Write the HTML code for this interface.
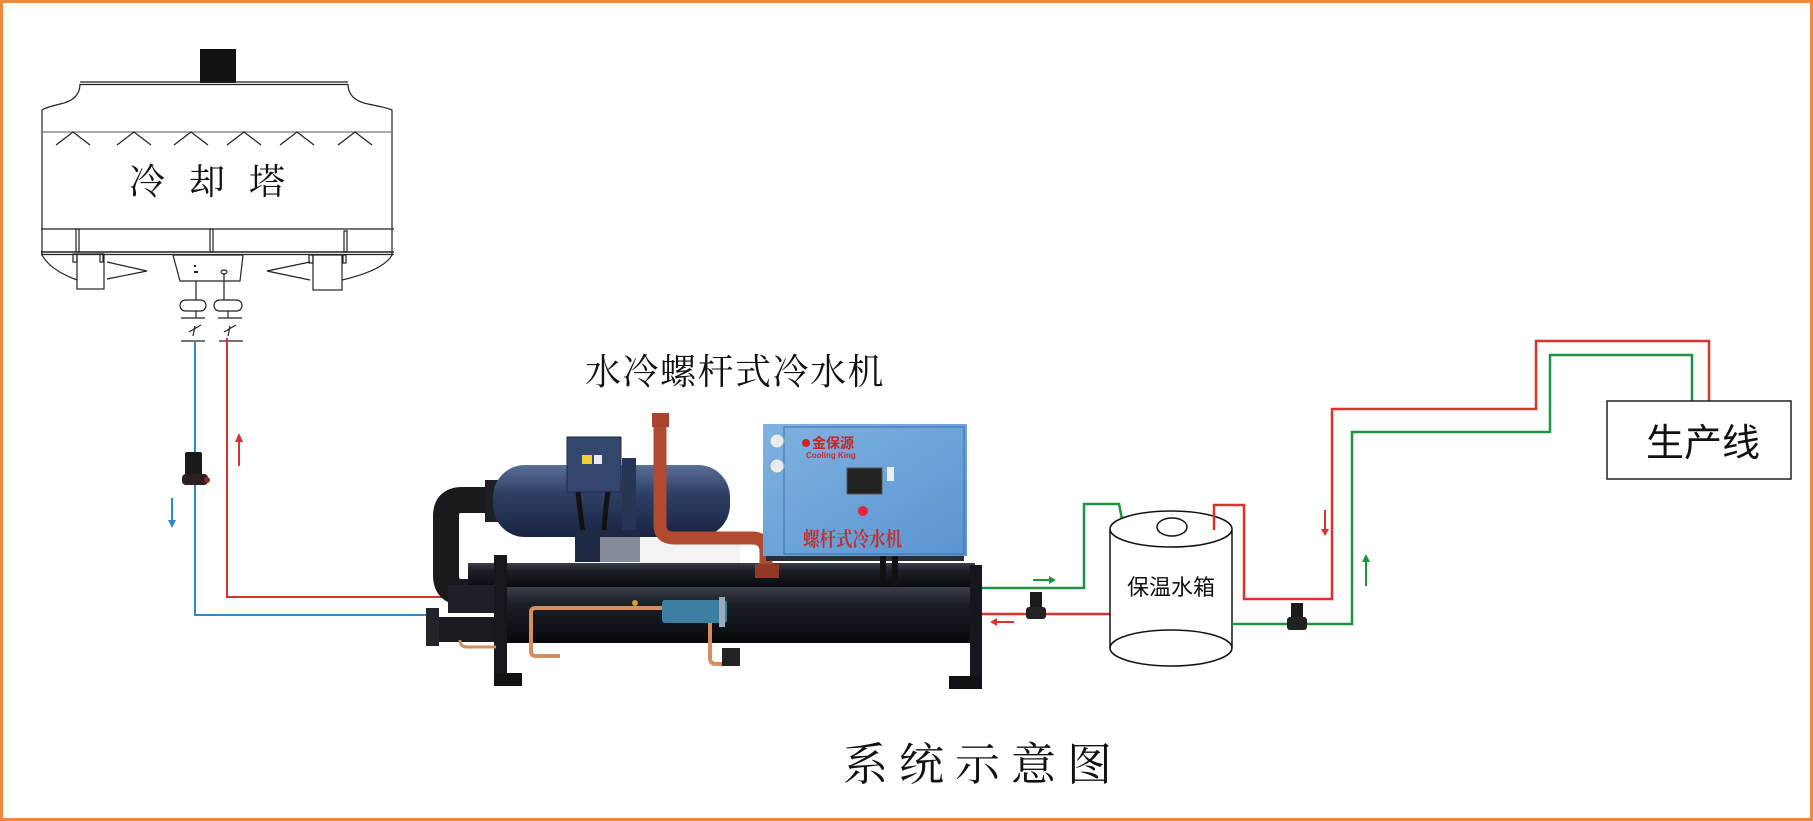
<!DOCTYPE html>
<html><head><meta charset="utf-8"><style>
html,body{margin:0;padding:0;background:#fff}
svg{display:block}
</style></head><body>
<svg width="1813" height="821" viewBox="0 0 1813 821" xmlns="http://www.w3.org/2000/svg">
<defs>
<linearGradient id="blk" x1="0" y1="0" x2="0" y2="1"><stop offset="0" stop-color="#3a3e48"/><stop offset="0.3" stop-color="#1c1f26"/><stop offset="1" stop-color="#08090c"/></linearGradient>
<linearGradient id="nav" x1="0" y1="0" x2="0" y2="1"><stop offset="0" stop-color="#5a6f96"/><stop offset="0.4" stop-color="#2e3f66"/><stop offset="1" stop-color="#1a2440"/></linearGradient>
<linearGradient id="sky" x1="0" y1="0" x2="1" y2="1"><stop offset="0" stop-color="#7fb2e2"/><stop offset="1" stop-color="#5a94d0"/></linearGradient>
</defs>
<rect x="1.5" y="1.5" width="1810" height="818" fill="#fff" stroke="#ef8a3c" stroke-width="3"/>

<!-- Cooling tower -->
<g fill="none" stroke="#222" stroke-width="1.2">
<rect x="200" y="49" width="36" height="34" fill="#111" stroke="none"/>
<line x1="80" y1="82" x2="348" y2="82"/><line x1="80" y1="84.5" x2="348" y2="84.5"/>
<path d="M80 84 Q80 100 60 104 Q44 108 42 110 L42 255 Q50 270 77 280"/>
<path d="M348 84 Q348 100 368 104 Q388 108 392 110 L392 255 Q384 270 342 280"/>
<line x1="42" y1="132" x2="392" y2="132" stroke="#777"/>
<path d="M56 145 L73 132 L90 145 M117 145 L134 132 L151 145 M174 145 L191 132 L208 145 M227 145 L244 132 L261 145 M280 145 L297 132 L314 145 M338 145 L355 132 L372 145"/>
<line x1="41" y1="229" x2="394" y2="229"/>
<line x1="41" y1="252" x2="394" y2="252" stroke-width="1.6"/><line x1="41" y1="254.5" x2="394" y2="254.5"/>
<rect x="76" y="229" width="3" height="23"/><rect x="210" y="229" width="3" height="23"/><rect x="344" y="231" width="3" height="21"/>
<rect x="77" y="254" width="27" height="35"/><rect x="73" y="254" width="4" height="8"/><rect x="100" y="254" width="3" height="8"/>
<rect x="313" y="255" width="29" height="35"/><rect x="309" y="255" width="4" height="8"/><rect x="343" y="255" width="3" height="8"/>
<path d="M107 262 L147 271 L107 279"/><path d="M310 262 L267 271 L310 280"/>
<path d="M173 255 L243 255 L240 281 L180 281 Z"/>
<line x1="195" y1="265" x2="195" y2="267" stroke-width="2"/><line x1="194" y1="272" x2="198" y2="272" stroke-width="2"/>
<ellipse cx="224" cy="272" rx="3" ry="2"/>
<line x1="196" y1="281" x2="196" y2="300"/><line x1="224" y1="274" x2="224" y2="300"/>
<rect x="180" y="300" width="26" height="11" rx="5.5"/><rect x="214" y="300" width="28" height="11" rx="5.5"/>
<line x1="196" y1="311" x2="196" y2="318"/><line x1="181" y1="318" x2="205" y2="318"/>
<line x1="228" y1="311" x2="228" y2="318"/><line x1="218" y1="318" x2="242" y2="318"/>
<path d="M189 332 L201 325 M195 326 L193 336"/><path d="M224 332 L236 325 M230 326 L228 336"/>
<line x1="181" y1="341" x2="205" y2="341"/><line x1="219" y1="341" x2="243" y2="341"/>
</g>
<text x="219" y="194" text-anchor="middle" font-family="Liberation Serif, 'Noto Serif CJK SC', serif" font-size="36" letter-spacing="24" fill="#111">冷却塔</text>

<!-- Left pipes -->
<polyline points="195,342 195,615 430,615" fill="none" stroke="#2a8ac6" stroke-width="2"/>
<polyline points="227,338 227,597 470,597" fill="none" stroke="#d9332e" stroke-width="2"/>
<g><rect x="185" y="452" width="17" height="24" fill="#1a1a1a" rx="2"/><rect x="182" y="474" width="26" height="11" fill="#2a2020" rx="4"/><circle cx="207" cy="480" r="3" fill="#8a2a20"/></g>
<line x1="172" y1="498" x2="172" y2="524" stroke="#2a8ac6" stroke-width="2"/><path d="M168 520 L172 528 L176 520Z" fill="#2a8ac6"/>
<line x1="239" y1="466" x2="239" y2="439" stroke="#d9332e" stroke-width="2"/><path d="M235 442 L239 433 L243 442Z" fill="#d9332e"/>

<!-- Chiller title -->
<text x="735" y="384" text-anchor="middle" font-family="Liberation Serif, 'Noto Serif CJK SC', serif" font-size="36" letter-spacing="1.5" fill="#111">水冷螺杆式冷水机</text>

<!-- Chiller -->
<g>
<path d="M495 500 L462 500 Q446 500 446 516 L446 575 Q446 592 462 592 L490 592" fill="none" stroke="#1a1a1e" stroke-width="26"/>
<rect x="485" y="480" width="20" height="42" fill="#1d1f24"/>
<rect x="493" y="465" width="237" height="72" rx="32" fill="url(#nav)"/>
<rect x="567" y="437" width="54" height="55" fill="#33466e" stroke="#1c2844"/>
<rect x="582" y="455" width="10" height="9" fill="#f0d030"/><rect x="594" y="455" width="8" height="9" fill="#e8e8f0"/>
<rect x="622" y="458" width="14" height="85" fill="#263456"/>
<path d="M578 492 Q582 530 588 560 M608 492 Q602 530 605 560" stroke="#111" stroke-width="5" fill="none"/>
<rect x="575" y="530" width="65" height="32" fill="#1e2a44"/>
<rect x="600" y="537" width="140" height="26" fill="#e8e8ea" opacity="0.5"/>
<!-- upper shell -->
<rect x="468" y="563" width="507" height="26" fill="url(#blk)"/>
<!-- lower cylinder -->
<rect x="501" y="587" width="479" height="56" rx="6" fill="url(#blk)"/>
<rect x="494" y="555" width="13" height="130" fill="#15171c"/>
<rect x="970" y="565" width="12" height="123" fill="#15171c"/>
<rect x="494" y="673" width="28" height="13" fill="#101215"/>
<rect x="949" y="676" width="33" height="13" fill="#101215"/>
<rect x="436" y="617" width="58" height="25" fill="#1a1c21"/>
<rect x="426" y="608" width="13" height="38" fill="#22242a"/>
<rect x="448" y="585" width="46" height="28" fill="#1d2026"/>
<!-- copper pipes -->
<path d="M560 656 L536 656 Q531 656 531 651 L531 612 Q531 608 536 608 L662 608" fill="none" stroke="#d48e60" stroke-width="4"/>
<path d="M460 640 Q460 647 467 647 L496 647" fill="none" stroke="#d48e60" stroke-width="3"/>
<path d="M710 622 L710 658 Q710 664 716 664 L728 664" fill="none" stroke="#d48e60" stroke-width="4"/>
<rect x="662" y="600" width="65" height="23" rx="3" fill="#3d7fa2"/>
<rect x="719" y="597" width="6" height="30" fill="#9ab"/>
<rect x="722" y="648" width="18" height="18" fill="#222"/>
<circle cx="635" cy="603" r="3" fill="#d4a030"/>
<!-- red pipe -->
<path d="M660 422 L660 525 Q660 538 674 538 L752 538 Q766 538 766 552 L766 568" fill="none" stroke="#b04a30" stroke-width="13"/>
<rect x="652" y="413" width="17" height="14" fill="#a8452c"/>
<rect x="755" y="564" width="24" height="14" fill="#8e3a26"/>
<!-- control panel -->
<rect x="763" y="424" width="204" height="132" fill="url(#sky)"/>
<rect x="784" y="427" width="180" height="127" fill="none" stroke="#3c6fa8" stroke-width="1"/>
<circle cx="777" cy="441" r="7" fill="#e8ecf0" stroke="#8aa"/><circle cx="777" cy="466" r="7" fill="#e8ecf0" stroke="#8aa"/>
<circle cx="806" cy="443" r="4" fill="#c22"/>
<text x="812" y="448" font-family="Liberation Sans, 'Noto Sans CJK SC', sans-serif" font-size="14" font-weight="bold" fill="#c22">金保源</text>
<text x="806" y="458" font-family="Liberation Sans, sans-serif" font-size="8" font-weight="bold" fill="#b33">Cooling King</text>
<rect x="847" y="468" width="35" height="26" fill="#222" stroke="#555"/>
<rect x="887" y="467" width="7" height="14" fill="#eee"/>
<circle cx="863" cy="511" r="5" fill="#e23"/>
<text x="803" y="546" textLength="99" lengthAdjust="spacingAndGlyphs" font-family="Liberation Serif, 'Noto Serif CJK SC', serif" font-size="20" font-weight="bold" fill="#c0302e">螺杆式冷水机</text>
<rect x="766" y="556" width="198" height="5" fill="#2a2e36"/>
<rect x="880" y="556" width="6" height="30" fill="#111"/><rect x="892" y="556" width="6" height="30" fill="#111"/>
</g>

<!-- Right side pipes -->
<polyline points="982,588 1084,588 1084,504 1119,504 1123,524" fill="none" stroke="#1f9440" stroke-width="2.5"/>
<line x1="1033" y1="580" x2="1050" y2="580" stroke="#1f9440" stroke-width="2"/><path d="M1049 576 L1056 580 L1049 584Z" fill="#1f9440"/>
<line x1="982" y1="614" x2="1110" y2="614" stroke="#d9332e" stroke-width="2.5"/>
<line x1="995" y1="622" x2="1014" y2="622" stroke="#d9332e" stroke-width="2"/><path d="M997 618 L990 622 L997 626Z" fill="#d9332e"/>
<g><rect x="1030" y="592" width="12" height="18" fill="#1a1a1a"/><rect x="1026" y="607" width="20" height="12" fill="#222" rx="3"/></g>

<!-- Tank -->
<g fill="#fff" stroke="#111" stroke-width="1.5">
<path d="M1110 529 L1110 648 A61 18 0 0 0 1232 648 L1232 529" />
<ellipse cx="1171" cy="529" rx="61" ry="18"/>
<path d="M1110 648 A61 18 0 0 1 1232 648" fill="none"/>
<ellipse cx="1172" cy="527" rx="15" ry="9"/>
</g>
<text x="1171" y="595" text-anchor="middle" font-family="Liberation Sans, 'Noto Sans CJK SC', sans-serif" font-size="22" fill="#111">保温水箱</text>

<polyline points="1214,530 1214,505 1244,505 1244,599 1332,599 1332,409 1536,409 1536,341 1709,341 1709,402" fill="none" stroke="#d9332e" stroke-width="2.5"/>
<polyline points="1232,624 1352,624 1352,432 1550,432 1550,355 1692,355 1692,402" fill="none" stroke="#1f9440" stroke-width="2.5"/>
<g><rect x="1291" y="603" width="12" height="18" fill="#1a1a1a"/><rect x="1287" y="617" width="20" height="13" fill="#222" rx="3"/></g>
<line x1="1325" y1="510" x2="1325" y2="532" stroke="#d9332e" stroke-width="2"/><path d="M1321 529 L1325 536 L1329 529Z" fill="#d9332e"/>
<line x1="1366" y1="586" x2="1366" y2="560" stroke="#1f9440" stroke-width="2"/><path d="M1362 562 L1366 554 L1370 562Z" fill="#1f9440"/>

<rect x="1607" y="401" width="184" height="78" fill="#fff" stroke="#222" stroke-width="1.5"/>
<text x="1703" y="456" text-anchor="middle" font-family="Liberation Sans, 'Noto Sans CJK SC', sans-serif" font-size="38" fill="#111">生产线</text>

<text x="983" y="780" text-anchor="middle" font-family="Liberation Serif, 'Noto Serif CJK SC', serif" font-size="45" letter-spacing="11" fill="#111">系统示意图</text>
</svg>
</body></html>
